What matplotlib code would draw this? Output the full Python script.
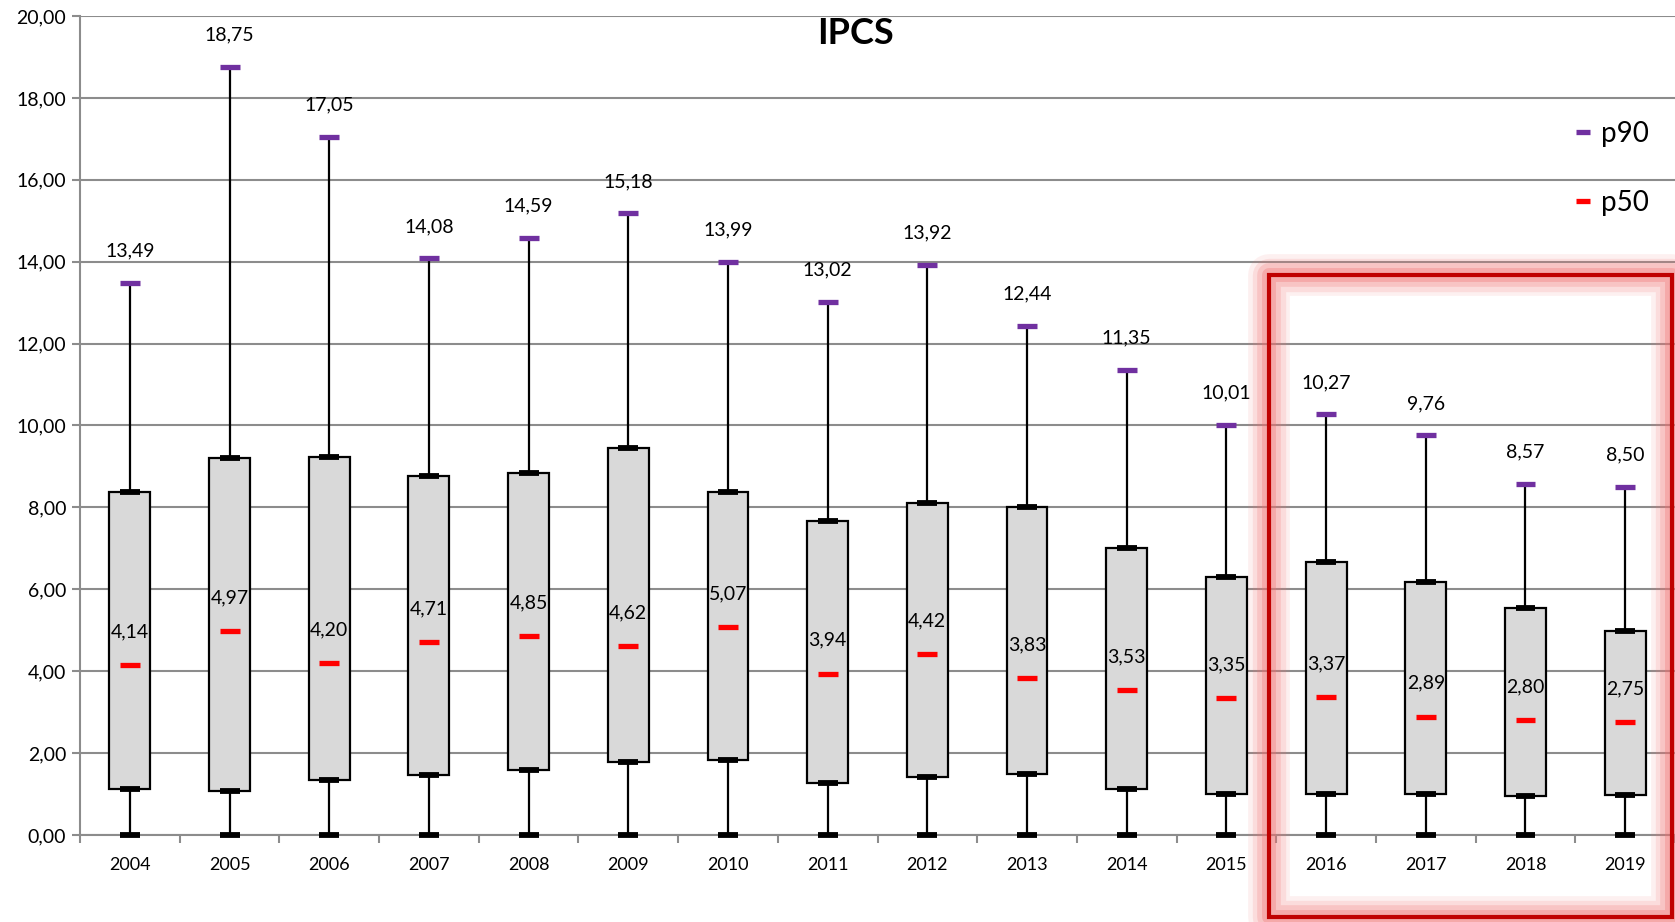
import numpy as np
import matplotlib
matplotlib.use("Agg")
import matplotlib.pyplot as plt
from matplotlib.lines import Line2D
from matplotlib.patches import Rectangle

plt.rcParams['font.family'] = ['Lato', 'DejaVu Sans']

years = ['2004', '2005', '2006', '2007', '2008', '2009', '2010', '2011',
         '2012', '2013', '2014', '2015', '2016', '2017', '2018', '2019']
p10 = [0, 0, 0, 0, 0, 0, 0, 0, 0, 0, 0, 0, 0, 0, 0, 0]
p25 = [1.12, 1.08, 1.35, 1.47, 1.59, 1.79, 1.82, 1.26,
       1.42, 1.49, 1.13, 1.01, 0.99, 1.00, 0.95, 0.98]
p50 = [4.14, 4.97, 4.20, 4.71, 4.85, 4.62, 5.07, 3.94,
       4.42, 3.83, 3.53, 3.35, 3.37, 2.89, 2.80, 2.75]
p75 = [8.37, 9.20, 9.24, 8.76, 8.84, 9.44, 8.37, 7.66,
       8.10, 8.02, 7.01, 6.30, 6.67, 6.17, 5.55, 4.97]
p90 = [13.49, 18.75, 17.05, 14.08, 14.59, 15.18, 13.99, 13.02,
       13.92, 12.44, 11.35, 10.01, 10.27, 9.76, 8.57, 8.50]

PURPLE = '#7030A0'
RED = '#FF0000'
GRID = '#8c8c8c'


def fmt(v):
    return '{:.2f}'.format(v).replace('.', ',')


W, H = 1675, 922
fig = plt.figure(figsize=(W / 100, H / 100), dpi=100)
ax = fig.add_axes([80 / W, 87 / H, 1 - 80 / W, (835 - 16) / H])

x = np.arange(len(years))
lo, q1, md, q3, hi = (np.array(a) for a in (p10, p25, p50, p75, p90))

# whiskers
ax.vlines(x, lo, q1, color='black', lw=1.6, zorder=3)
ax.vlines(x, q3, hi, color='black', lw=1.6, zorder=3)
# boxes
ax.bar(x, q3 - q1, bottom=q1, width=0.41, color='#D9D9D9',
       edgecolor='black', linewidth=1.6, zorder=4)
# caps
cw = 0.1
for vals in (lo, q1, q3):
    ax.hlines(vals, x - cw, x + cw, color='black', lw=4.2, zorder=5,
              clip_on=False)
ax.hlines(hi, x - cw, x + cw, color=PURPLE, lw=3.8, zorder=5)
ax.hlines(md, x - cw, x + cw, color=RED, lw=3.8, zorder=5)

for xi, v in zip(x, hi):
    ax.annotate(fmt(v), (xi, v), xytext=(0, 23), textcoords='offset points',
                ha='center', va='center', fontsize=14)
for xi, v in zip(x, md):
    ax.annotate(fmt(v), (xi, v), xytext=(0, 24), textcoords='offset points',
                ha='center', va='center', fontsize=14, zorder=6)

ax.set_xlim(-0.5, len(years) - 0.5)
ax.set_ylim(0, 20)
ax.set_yticks(np.arange(0, 21, 2))
ax.set_yticklabels([fmt(v) for v in np.arange(0, 21, 2)], fontsize=14)
ax.set_xticks(x)
ax.set_xticklabels(years, fontsize=13)
ax.set_xticks(np.arange(-0.5, len(years), 1), minor=True)
ax.tick_params(axis='x', which='major', length=0, pad=16)
ax.tick_params(axis='x', which='minor', length=6, width=1.5, color=GRID)
ax.tick_params(axis='y', length=6, width=1.5, color=GRID, pad=4)
ax.grid(axis='y', color=GRID, lw=1.5, zorder=0)
ax.set_axisbelow(True)
for s in ('top', 'right'):
    ax.spines[s].set_visible(False)
for s in ('left', 'bottom'):
    ax.spines[s].set_color(GRID)
    ax.spines[s].set_linewidth(1.5)

handles = [Line2D([], [], color=PURPLE, lw=3.8, solid_capstyle='butt'),
           Line2D([], [], color=RED, lw=3.8, solid_capstyle='butt')]
ax.legend(handles, ['p90', 'p50'], loc='upper left', frameon=False,
          bbox_to_anchor=(1565 / W, 1 - 110 / H), bbox_transform=fig.transFigure,
          fontsize=20, handlelength=0.5, handletextpad=0.4, labelspacing=1.55,
          borderaxespad=0)

fig.text(855 / W, 1 - 33 / H, 'IPCS', ha='center', va='center',
         fontsize=26, fontweight='bold')

# highlighted zone around the last four years
rx0, ry0, rx1, ry1 = 1269, 275, 1672, 917
for lw, a in [(30, 0.10), (24, 0.15), (17, 0.22), (10, 0.32)]:
    fig.add_artist(Rectangle((rx0 / W, 1 - ry1 / H), (rx1 - rx0) / W,
                             (ry1 - ry0) / H, transform=fig.transFigure,
                             fill=False, edgecolor='#F07070', alpha=a,
                             lw=lw, joinstyle='round'))
fig.add_artist(Rectangle((rx0 / W, 1 - ry1 / H), (rx1 - rx0) / W,
                         (ry1 - ry0) / H, transform=fig.transFigure,
                         fill=False, edgecolor='#C00000', lw=3))

fig.savefig('out.png', dpi=100)
